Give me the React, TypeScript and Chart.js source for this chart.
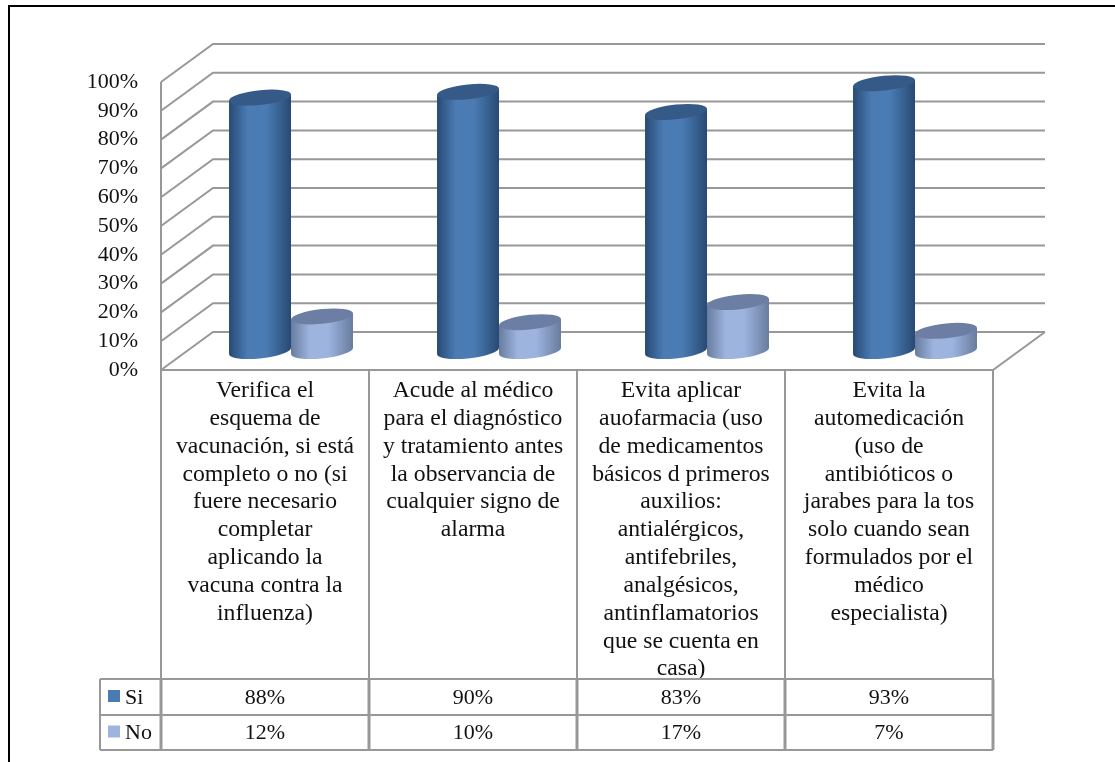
import React, { useEffect, useRef } from "react";
import { Chart, registerables } from "chart.js";

Chart.register(...registerables);

const categories: string[][] = [
  ["Verifica el", "esquema de", "vacunación, si está", "completo o no (si", "fuere necesario", "completar", "aplicando la", "vacuna contra la", "influenza)"],
  ["Acude al médico", "para el diagnóstico", "y tratamiento antes", "la observancia de", "cualquier signo de", "alarma"],
  ["Evita aplicar", "auofarmacia (uso", "de medicamentos", "básicos d primeros", "auxilios:", "antialérgicos,", "antifebriles,", "analgésicos,", "antinflamatorios", "que se cuenta en", "casa)"],
  ["Evita la", "automedicación", "(uso de", "antibióticos o", "jarabes para la tos", "solo cuando sean", "formulados por el", "médico", "especialista)"],
];
const si = [88, 90, 83, 93];
const no = [12, 10, 17, 7];

const FONT = '"Liberation Serif", "Times New Roman", serif';
const TEXT = "#111111";
const GRID = "#989898";
const DEPTH_X = 52;
const DEPTH_Y = 38;
const ROW_TOP = 679;
const ROW_MID = 715;
const ROW_END = 750;
const LEGEND_LEFT = 100;

type Palette = { edge: string; mid: string; top: string };
const SI_COLORS: Palette = { edge: "#284a73", mid: "#4a7bb3", top: "#365a88" };
const NO_COLORS: Palette = { edge: "#687c9f", mid: "#9db4de", top: "#6c7ea3" };

function cylinder(ctx: CanvasRenderingContext2D, cx: number, top: number, base: number, hw: number, c: Palette) {
  const slope = -0.1;
  const ry = 7.4;
  const body = ctx.createLinearGradient(cx - hw, 0, cx + hw, 0);
  body.addColorStop(0, c.edge);
  body.addColorStop(0.3, c.mid);
  body.addColorStop(0.6, c.mid);
  body.addColorStop(1, c.edge);
  ctx.save();
  ctx.translate(cx, 0);
  ctx.transform(1, slope, 0, 1, 0, 0);
  ctx.beginPath();
  ctx.ellipse(0, base, hw, ry, 0, 0, Math.PI);
  ctx.lineTo(-hw, top);
  ctx.lineTo(hw, top);
  ctx.closePath();
  ctx.restore();
  ctx.fillStyle = body;
  ctx.fill();
  ctx.save();
  ctx.translate(cx, top);
  ctx.transform(1, slope, 0, 1, 0, 0);
  ctx.fillStyle = c.top;
  ctx.beginPath();
  ctx.ellipse(0, 0, hw, ry, 0, 0, Math.PI * 2);
  ctx.fill();
  ctx.restore();
}

// Back walls, floor and side grid lines of the 3D plot box.
const wallsPlugin = {
  id: "walls",
  beforeDatasetsDraw(chart: Chart) {
    const { ctx, scales } = chart;
    const x = scales.x;
    const y = scales.y;
    const left = x.left;
    const right = x.right;
    ctx.save();
    ctx.strokeStyle = GRID;
    ctx.lineWidth = 2;
    (y.ticks as { value: number }[]).forEach((t) => {
      const py = y.getPixelForValue(t.value);
      ctx.beginPath();
      ctx.moveTo(left, py);
      ctx.lineTo(left + DEPTH_X, py - DEPTH_Y);
      ctx.lineTo(right + DEPTH_X, py - DEPTH_Y);
      ctx.stroke();
    });
    ctx.beginPath();
    ctx.moveTo(left, y.getPixelForValue(100));
    ctx.lineTo(left, y.getPixelForValue(0));
    ctx.lineTo(right, y.getPixelForValue(0));
    ctx.lineTo(right + DEPTH_X, y.getPixelForValue(0) - DEPTH_Y);
    ctx.stroke();
    ctx.restore();
  },
};

// Cylinders standing in the middle of the floor depth, read from the bar elements.
const cylinderPlugin = {
  id: "cylinders",
  afterDatasetsDraw(chart: Chart) {
    const { ctx } = chart;
    const palettes = [SI_COLORS, NO_COLORS];
    ctx.save();
    si.forEach((_, i) => {
      [0, 1].forEach((d) => {
        const el = chart.getDatasetMeta(d).data[i] as unknown as { x: number; y: number; base: number; width: number };
        cylinder(ctx, el.x + DEPTH_X / 2, el.y - DEPTH_Y / 2, el.base - DEPTH_Y / 2, el.width / 2, palettes[d]);
      });
    });
    ctx.restore();
  },
};

// Data table under the plot: category cells, series rows and legend keys.
const tablePlugin = {
  id: "dataTable",
  afterDraw(chart: Chart) {
    const { ctx, scales } = chart;
    const x = scales.x;
    const y = scales.y;
    const floor = y.getPixelForValue(0);
    const step = (x.right - x.left) / si.length;
    ctx.save();

    // frame around the figure: left and top edges only
    ctx.strokeStyle = "#000000";
    ctx.lineWidth = 2;
    ctx.beginPath();
    ctx.moveTo(9, 762);
    ctx.lineTo(9, 6);
    ctx.lineTo(1115, 6);
    ctx.stroke();

    ctx.strokeStyle = GRID;
    for (let i = 0; i <= si.length; i++) {
      const px = x.left + step * i;
      ctx.lineWidth = 2;
      ctx.beginPath();
      ctx.moveTo(px, floor);
      ctx.lineTo(px, ROW_TOP);
      ctx.stroke();
      ctx.lineWidth = 3;
      ctx.beginPath();
      ctx.moveTo(px, ROW_TOP);
      ctx.lineTo(px, ROW_END);
      ctx.stroke();
    }
    ctx.lineWidth = 2;
    [ROW_TOP, ROW_MID, ROW_END].forEach((py) => {
      ctx.beginPath();
      ctx.moveTo(LEGEND_LEFT, py);
      ctx.lineTo(x.right, py);
      ctx.stroke();
    });
    ctx.beginPath();
    ctx.moveTo(LEGEND_LEFT, ROW_TOP);
    ctx.lineTo(LEGEND_LEFT, ROW_END);
    ctx.stroke();

    ctx.font = `22px ${FONT}`;
    ctx.textBaseline = "middle";
    const rows: [string, number[], string, number, number][] = [
      ["Si", si, SI_COLORS.mid, ROW_TOP, ROW_MID],
      ["No", no, NO_COLORS.mid, ROW_MID, ROW_END],
    ];
    rows.forEach(([name, values, color, a, b]) => {
      const mid = (a + b) / 2 + 1;
      ctx.fillStyle = color;
      ctx.fillRect(108, mid - 8, 12, 12);
      ctx.fillStyle = TEXT;
      ctx.textAlign = "left";
      ctx.fillText(name, 125, mid);
      ctx.textAlign = "center";
      values.forEach((v, i) => ctx.fillText(`${v}%`, x.left + step * (i + 0.5), mid));
    });
    ctx.restore();
  },
};

export default function App() {
  const ref = useRef<HTMLCanvasElement>(null);
  useEffect(() => {
    if (!ref.current) return;
    const chart = new Chart(ref.current, {
      type: "bar",
      data: {
        labels: categories as unknown as string[],
        datasets: [
          { label: "Si", data: si, backgroundColor: "rgba(0,0,0,0)", categoryPercentage: 0.596, barPercentage: 1 },
          { label: "No", data: no, backgroundColor: "rgba(0,0,0,0)", categoryPercentage: 0.596, barPercentage: 1 },
        ],
      },
      options: {
        responsive: false,
        animation: false,
        layout: { padding: { left: 0, top: 82, right: 122, bottom: 0 } },
        plugins: { legend: { display: false }, title: { display: false }, tooltip: { enabled: false } },
        scales: {
          x: {
            grid: { display: false, drawTicks: false },
            border: { display: false },
            afterFit: (s: { height: number }) => { s.height = 762 - 370; },
            ticks: {
              autoSkip: false,
              maxRotation: 0,
              minRotation: 0,
              padding: 7,
              color: TEXT,
              font: { family: FONT, size: 23.7, lineHeight: 1.174 },
            },
          },
          y: {
            min: 0,
            max: 100,
            grid: { display: false, drawTicks: false },
            border: { display: false },
            afterFit: (s: { width: number }) => { s.width = 161; },
            ticks: {
              stepSize: 10,
              autoSkip: false,
              padding: 23,
              color: TEXT,
              font: { family: FONT, size: 22 },
              callback: (v: number | string) => `${v}%`,
            },
          },
        },
      },
      plugins: [wallsPlugin, cylinderPlugin, tablePlugin],
    });
    return () => chart.destroy();
  }, []);
  return (
    <canvas
      ref={ref}
      width={1115}
      height={762}
      style={{ position: "fixed", left: 0, top: 0, width: 1115, height: 762, background: "#ffffff" }}
    />
  );
}
